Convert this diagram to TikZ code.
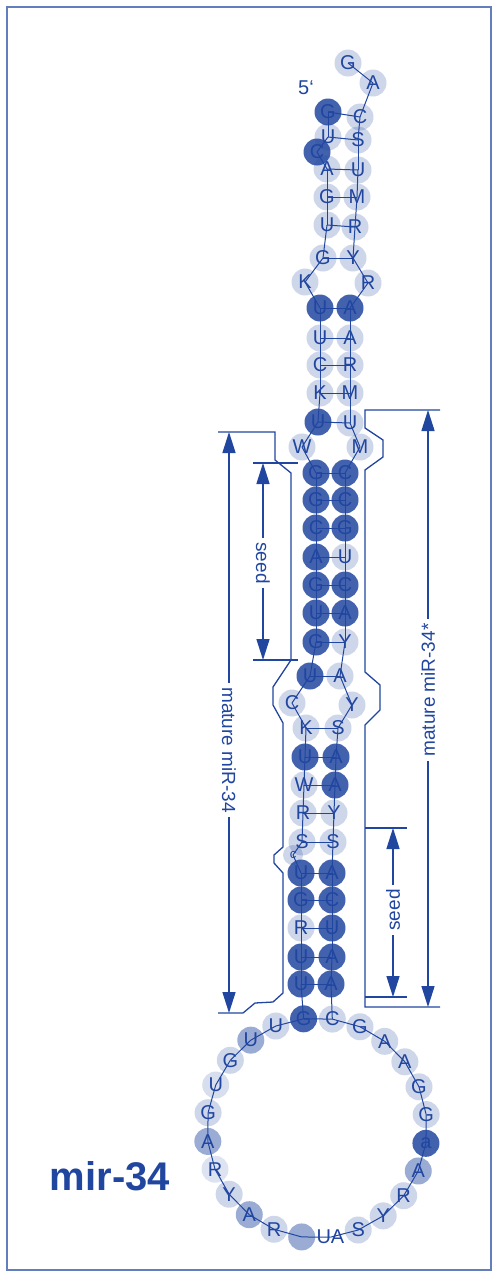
\documentclass[tikz,border=0pt]{standalone}
\usepackage{fontspec}
\setmainfont{Liberation Sans}
\usetikzlibrary{arrows.meta}
\definecolor{mb}{RGB}{33,70,160}
\pgfdeclarelayer{bg}
\pgfsetlayers{bg,main}
\begin{document}
\begin{tikzpicture}[x=1pt,y=-1pt,
  nt/.style={circle,minimum size=27pt,inner sep=0pt,fill=mb,text=mb,text opacity=1,font=\fontsize{20}{20}\selectfont},
  bb/.style={draw=mb,line width=1pt},
  outl/.style={draw=mb,line width=1.3pt},
  dim/.style={draw=mb,line width=1.5pt,{Triangle[length=21pt,width=13pt]}-{Triangle[length=21pt,width=13pt]}},
  lab/.style={text=mb,font=\fontsize{19}{19}\selectfont,fill=white,inner sep=4pt},
  frame/.style={draw=mb!70,line width=1.2pt}]
\useasboundingbox (0,0) rectangle (497,1277);
\draw[frame] (7,7) rectangle (491,1270);

% 5' strand
\foreach \n/\x/\y/\t/\o in {
 a1/328/112/G/.85, a2/328/137/U/.22, a3/317/152/C/.85, a4/327/169/A/.22,
 a5/327/197/G/.22, a6/327/225/U/.22, a7/323/258/G/.22, a8/305/282/K/.22,
 a9/320/308/U/.85, a10/320/338/U/.22, a11/320/365/C/.22, a12/320/393/K/.22,
 a13/318/422/U/.85, a14/302/447/W/.22, a15/316/473/G/.85, a16/316/500/G/.85,
 a17/316/528/C/.85, a18/316/557/A/.85, a19/316/585/G/.85, a20/316/613/U/.85,
 a21/316/642/G/.85, a22/310/676/U/.85, a23/292/703/C/.22, a24/306/728/K/.22,
 a25/305/757/U/.85, a26/304/785/W/.22, a27/303/813/R/.22, a28/302/842/S/.22}
 \node[nt,fill opacity=\o] (\n) at (\x,\y) {\t};
\node[nt,minimum size=20pt,fill opacity=.22,font=\fontsize{13}{13}\selectfont] (a29) at (293,855) {c};
\foreach \n/\x/\y/\t/\o in {
 a30/301/873/U/.85, a31/301/900/G/.85, a32/301/928/R/.22, a33/301/957/U/.85,
 a34/301/984/U/.85}
 \node[nt,fill opacity=\o] (\n) at (\x,\y) {\t};

% 3' strand
\foreach \n/\x/\y/\t/\o in {
 b0/348/63/G/.22, b1/373/83/A/.22, b2/360/117/C/.22, b3/358/140/S/.22,
 b4/358/170/U/.22, b5/357/197/M/.22, b6/355/227/R/.22, b7/353/258/Y/.22,
 b8/368/283/R/.22, b9/350/308/A/.85, b10/350/338/A/.22, b11/350/365/R/.22,
 b12/350/393/M/.22, b13/350/423/U/.22, b14/360/447/M/.22, b15/345/473/C/.85,
 b16/345/500/C/.85, b17/345/528/G/.85, b18/345/557/U/.22, b19/345/585/C/.85,
 b20/345/613/A/.85, b21/345/642/Y/.22, b22/340/676/A/.22, b23/352/705/Y/.22,
 b24/338/728/S/.22, b25/336/757/A/.85, b26/335/785/A/.85, b27/334/813/Y/.22,
 b28/333/842/S/.22, b30/332/873/A/.85, b31/332/900/C/.85, b32/332/928/U/.85,
 b33/332/957/A/.85, b34/331/984/A/.85}
 \node[nt,fill opacity=\o] (\n) at (\x,\y) {\t};

% terminal loop
\foreach \i/\t/\o in {0/G/.85,1/U/.22,2/U/.45,3/G/.22,4/U/.18,5/G/.22,6/A/.45,7/R/.15,
 8/Y/.22,9/A/.45,10/R/.22,11/{}/.45,12/UA/0,13/S/.22,14/Y/.22,15/R/.22,16/A/.45,
 17/a/.85,18/G/.22,19/G/.22,20/A/.22,21/A/.22,22/G/.22,23/C/.22}
 \node[nt,fill opacity=\o] (l\i) at ({317+110*cos(97+15*\i)},{1128-110*sin(97+15*\i)}) {\t};

\begin{pgfonlayer}{bg}
 \foreach \n [remember=\n as \last (initially a1)] in {a2,a3,a4,a5,a6,a7,a8,a9,a10,a11,a12,a13,a14,a15,a16,a17,a18,a19,a20,a21,a22,a23,a24,a25,a26,a27,a28,a29,a30,a31,a32,a33,a34,l0,l1,l2,l3,l4,l5,l6,l7,l8,l9,l10,l11,l12,l13,l14,l15,l16,l17,l18,l19,l20,l21,l22,l23,b34,b33,b32,b31,b30,b28,b27,b26,b25,b24,b23,b22,b21,b20,b19,b18,b17,b16,b15,b14,b13,b12,b11,b10,b9,b8,b7,b6,b5,b4,b3,b2,b1,b0}
  \draw[bb] (\last.center) -- (\n.center);
 \foreach \p/\q in {a1/b2,a2/b3,a4/b4,a5/b5,a6/b6,a7/b7,a9/b9,a10/b10,a11/b11,a12/b12,a13/b13,
  a15/b15,a16/b16,a17/b17,a18/b18,a19/b19,a20/b20,a21/b21,a22/b22,a24/b24,a25/b25,a26/b26,
  a27/b27,a28/b28,a30/b30,a31/b31,a32/b32,a33/b33,a34/b34,l0/l23}
  \draw[bb] (\p.center) -- (\q.center);
\end{pgfonlayer}

% outlines of the mature regions
\draw[outl] (218,432) -- (275,432) -- (275,460) -- (291,473) -- (291,660) -- (273,687) -- (273,705)
  -- (283,723) -- (283,847) -- (274,855) -- (274,863) -- (283,873) -- (283,993) -- (273,1002)
  -- (255,1003) -- (243,1013) -- (218,1013);
\draw[outl] (440,410) -- (365,410) -- (365,428) -- (383,440) -- (383,457) -- (365,470) -- (365,672)
  -- (380,685) -- (380,710) -- (365,725) -- (365,1007) -- (440,1007);
\draw[outl] (253,463) -- (298,463);
\draw[outl] (253,660) -- (298,660);
\draw[outl] (365,828) -- (407,828);
\draw[outl] (365,997) -- (407,997);

% dimension arrows
\coordinate (mLt) at (229,432); \coordinate (mLb) at (229,1013);
\coordinate (sLt) at (263,463); \coordinate (sLb) at (263,660);
\coordinate (mRt) at (428,410); \coordinate (mRb) at (428,1007);
\coordinate (sRt) at (393,828); \coordinate (sRb) at (393,997);
\draw[dim] (mLt) -- (mLb);
\draw[dim] (sLt) -- (sLb);
\draw[dim] (mRt) -- (mRb);
\draw[dim] (sRt) -- (sRb);
\node[lab,rotate=-90] (labML) at (229,750) {mature miR-34};
\node[lab,rotate=-90] (labSL) at (263,563) {seed};
\node[lab,rotate=90] (labMR) at (428,690) {mature miR-34*};
\node[lab,rotate=90] (labSR) at (393,910) {seed};

\node[text=mb,font=\fontsize{20}{20}\selectfont] (five) at (306,88) {5\symbol{96}};
\node[text=mb,font=\bfseries\fontsize{40}{40}\selectfont] (title) at (110,1176) {mir-34};
\end{tikzpicture}
\end{document}
